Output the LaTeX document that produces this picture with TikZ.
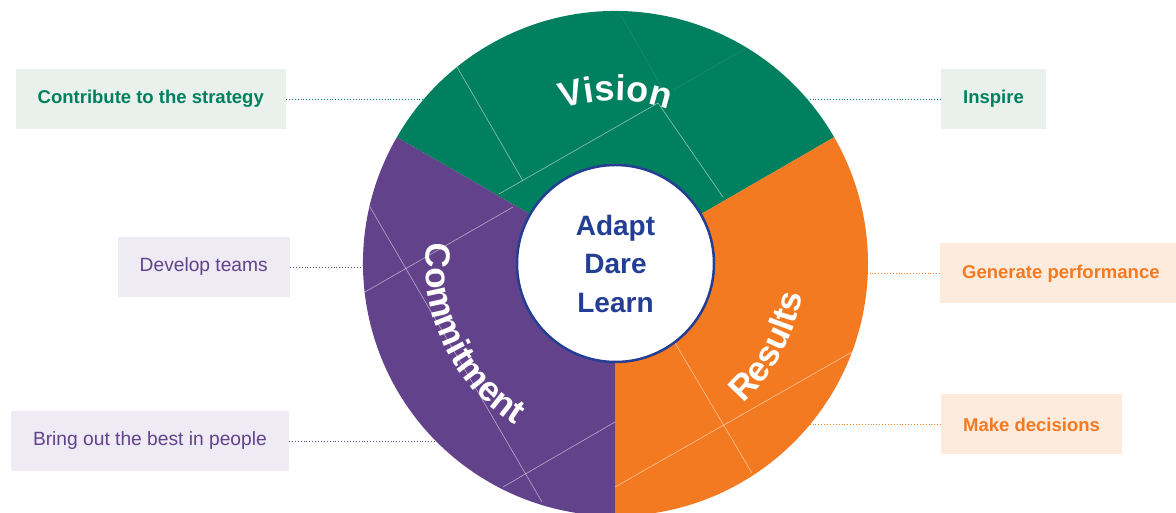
\documentclass[tikz,border=0pt]{standalone}
\usepackage{fontspec}
\setmainfont{Liberation Sans}
\usetikzlibrary{decorations.text}

\definecolor{visiongreen}{RGB}{0,128,94}
\definecolor{commitpurple}{RGB}{98,66,138}
\definecolor{resultorange}{RGB}{244,122,34}
\definecolor{hubblue}{RGB}{35,62,146}
\definecolor{greenbox}{RGB}{234,241,236}
\definecolor{purplebox}{RGB}{238,235,245}
\definecolor{orangebox}{RGB}{253,235,221}

\begin{document}
\begin{tikzpicture}[x=1pt,y=1pt]
            \tikzstyle{every node}+=[inner sep=0pt]
            \tikzstyle{hint}=[white, line width=0.6pt, opacity=0.55]
            \tikzstyle{leader}=[line width=0.9pt, dotted]
            \tikzstyle{goal}=[minimum height=60pt, inner xsep=22pt, font=\fontsize{19.2}{19.2}\selectfont]
            \tikzstyle{goalbold}=[goal, font=\fontsize{18.5}{18.5}\selectfont\bfseries]
            \useasboundingbox (0,0) rectangle (1176,513);
            \begin{scope}
            \clip (0,0) rectangle (1176,513);
            % the wheel
            \fill [visiongreen] (615.5,249.5) -- ++(30:252.5) arc (30:150:252.5) -- cycle;
            \fill [commitpurple] (615.5,249.5) -- ++(150:252.5) arc (150:270:252.5) -- cycle;
            \fill [resultorange] (615.5,249.5) -- ++(270:252.5) arc (270:390:252.5) -- cycle;
            % thin lines in the sectors
            \draw [hint] (457,446) -- (523,332);
            \draw [hint] (499,319) -- (658,410) -- (723,316);
            \draw [hint, opacity=0.1] (620,500) -- (667,416);
            \draw [hint, opacity=0.1] (673,423) -- (743,463);
            \draw [hint] (370,306) -- (542,11);
            \draw [hint] (365,221) -- (513,306);
            \draw [hint] (503,26) -- (615,91);
            \draw [hint] (675,170) -- (752,40);
            \draw [hint] (852,161) -- (615,26);
            \end{scope}
            % sector names
            \path [decorate, decoration={text along path, text align=center, text color=white,
                text={|\fontsize{36}{36}\selectfont\bfseries|Vision}}]
                (615.5,249.5) ++(150:163) arc (150:30:163);
            \path [decorate, decoration={text along path, text align=center, text color=white,
                text={|\fontsize{35}{35}\selectfont\bfseries|Commitment}}]
                (615.5,249.5) ++(145:190) arc (145:267:190);
            \path [decorate, decoration={text along path, text align=center, text color=white,
                text={|\fontsize{35}{35}\selectfont\bfseries|Results}}]
                (615.5,249.5) ++(-88:189) arc (-88:31:189);
            % centre
            \node [circle, draw=hubblue, line width=2.5pt, fill=white, minimum size=197pt,
                align=center, text=hubblue, font=\fontsize{28}{38.5}\selectfont\bfseries]
                (hub) at (615.5,249.5) {Adapt\\Dare\\Learn};
            % goals
            \node [goalbold, fill=greenbox, text=visiongreen, anchor=east] (strategy) at (286,414) {Contribute to the strategy};
            \node [goalbold, fill=greenbox, text=visiongreen, anchor=west] (inspire) at (941,414) {Inspire};
            \node [goal, fill=purplebox, text=commitpurple, anchor=east] (teams) at (290,246) {Develop teams};
            \node [goalbold, fill=orangebox, text=resultorange, anchor=west] (perform) at (940,239.5) {Generate performance};
            \node [goal, fill=purplebox, text=commitpurple, anchor=east] (people) at (289,72) {Bring out the best in people};
            \node [goalbold, fill=orangebox, text=resultorange, anchor=west] (decide) at (941,88.5) {Make decisions};
            % ends on the rim
            \coordinate (strategyend) at (423.9,414);
            \coordinate (inspireend) at (807.1,414);
            \coordinate (teamsend) at (363,246);
            \coordinate (performend) at (867.8,239.5);
            \coordinate (peopleend) at (435.9,72);
            \coordinate (decideend) at (810,88.5);
            \draw [leader, visiongreen] (strategy.east) -- (strategyend);
            \draw [leader, visiongreen] (inspire.west) -- (inspireend);
            \draw [leader, commitpurple] (teams.east) -- (teamsend);
            \draw [leader, resultorange] (perform.west) -- (performend);
            \draw [leader, commitpurple] (people.east) -- (peopleend);
            \draw [leader, resultorange] (decide.west) -- (decideend);
\end{tikzpicture}
\end{document}
